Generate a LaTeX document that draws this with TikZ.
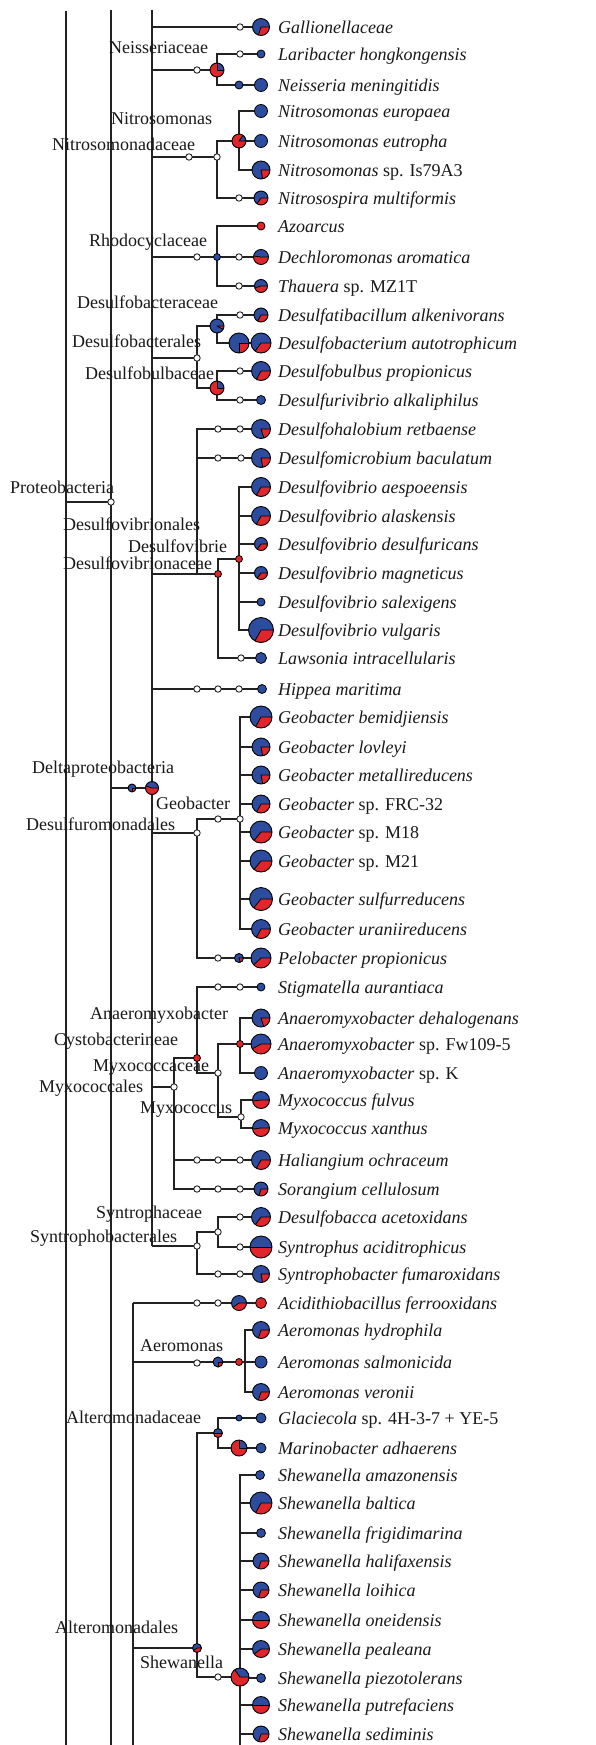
\documentclass[tikz,border=0pt]{standalone}
\usepackage{fontspec}
\setmainfont{Liberation Serif}
\usetikzlibrary{calc}
\definecolor{pblue}{HTML}{2E4C9E}
\definecolor{pred}{HTML}{E0262B}
\definecolor{lnc}{HTML}{222222}
\tikzset{
 br/.style={draw=lnc, line width=1.1pt},
 lab/.style={font=\fontsize{18}{20}\selectfont, inner sep=0pt, anchor=base west, text=black!90},
}
\newcommand\OC[1]{\filldraw[fill=white, draw=lnc, line width=0.9pt] (#1) circle[radius=3.2];}
\newcommand\DOT[3]{\filldraw[fill=#3, draw=black, line width=0.8pt] (#1) circle[radius=#2];}
\newcommand\PIE[3]{%
 \fill[pblue] (#1) circle[radius=#2];
 \fill[pred] (#1) -- ++(0:#2) arc[start angle=0,end angle={360*#3},radius=#2] -- cycle;
 \draw[black, line width=0.8pt, line join=round] (#1) ++(0:#2) -- (#1) -- ++({360*#3}:#2);
 \draw[black, line width=0.9pt] (#1) circle[radius=#2];}
\newcommand\SP[3]{\node[lab] (#1) at (278,{#2+6.5}) {#3};}
\begin{document}
\begin{tikzpicture}[x=1pt,y=-1pt]
\fill[white] (0,0) rectangle (596,1745);
\useasboundingbox (0,0) rectangle (596,1745);
% main lines
\coordinate (L1t) at (66,11); \coordinate (L1b) at (66,1745);
\coordinate (L2t) at (111,10); \coordinate (L2b) at (111,1745);
\coordinate (L3t) at (152,10); \coordinate (L3b) at (152,1246);
\coordinate (L4t) at (133,1303); \coordinate (L4b) at (133,1745);
\coordinate (prot) at (111,502);
% beta
\coordinate (galO) at (240,27); \coordinate (galT) at (261,27);
\coordinate (neisO) at (197,70); \coordinate (neis) at (217,70);
\coordinate (larO) at (240,54); \coordinate (larT) at (261,54);
\coordinate (nmenD) at (239,85); \coordinate (nmenT) at (261,85);
\coordinate (nmdO1) at (189,157); \coordinate (nmd) at (217,157);
\coordinate (nitroso) at (239,141);
\coordinate (neurT) at (261,111); \coordinate (neutT) at (261,141); \coordinate (nisT) at (261,170);
\coordinate (nmulO) at (239,198); \coordinate (nmulT) at (261,198);
\coordinate (rhodoO) at (197,257); \coordinate (rhodo) at (217,257);
\coordinate (azoT) at (261,226);
\coordinate (dechO) at (239,257); \coordinate (dechT) at (261,257);
\coordinate (thauO) at (239,286); \coordinate (thauT) at (261,286);
% delta
\coordinate (dbo) at (197,358); \coordinate (dbac) at (217,326);
\coordinate (dalkO) at (240,315); \coordinate (dalkT) at (261,315);
\coordinate (daut1) at (239,343); \coordinate (daut2) at (261,343);
\coordinate (dbulb) at (217,388);
\coordinate (dpropO) at (240,371); \coordinate (dpropT) at (261,371);
\coordinate (dakO) at (240,400); \coordinate (dakT) at (261,400);
\coordinate (dvn) at (197,574);
\coordinate (dhaloO1) at (218,429); \coordinate (dhaloO2) at (240,429); \coordinate (dhaloT) at (261,429);
\coordinate (dmicO1) at (218,458); \coordinate (dmicO2) at (241,458); \coordinate (dmicT) at (261,458);
\coordinate (dvac) at (218,574); \coordinate (dvib) at (239,559);
\coordinate (aespT) at (261,487); \coordinate (alasT) at (261,516); \coordinate (desuT) at (261,544);
\coordinate (magnT) at (261,573); \coordinate (salT) at (261,602); \coordinate (vulgT) at (261,630);
\coordinate (lawO) at (241,658); \coordinate (lawT) at (261,658);
\coordinate (hipO1) at (197,689); \coordinate (hipO2) at (218,689); \coordinate (hipO3) at (239,689); \coordinate (hipT) at (262,689);
\coordinate (delta1) at (132,788); \coordinate (delta2) at (152,788);
\coordinate (dmales) at (197,833); \coordinate (geobO) at (218,819); \coordinate (geob) at (240,819);
\coordinate (bemT) at (261,717); \coordinate (lovT) at (261,747); \coordinate (metT) at (261,775);
\coordinate (frcT) at (261,804); \coordinate (m18T) at (261,832); \coordinate (m21T) at (261,861);
\coordinate (sulT) at (261,899); \coordinate (uraT) at (261,929);
\coordinate (peloO) at (218,958); \coordinate (peloP) at (239,958); \coordinate (peloT) at (261,958);
\coordinate (myxales) at (174,1087); \coordinate (cysto) at (197,1058);
\coordinate (stigO1) at (218,987); \coordinate (stigO2) at (240,987); \coordinate (stigT) at (261,987);
\coordinate (myxac) at (218,1073); \coordinate (anaero) at (240,1044);
\coordinate (adehT) at (261,1018); \coordinate (afwT) at (261,1044); \coordinate (akT) at (261,1073);
\coordinate (myxo) at (241,1117); \coordinate (mfulT) at (261,1100); \coordinate (mxanT) at (261,1128);
\coordinate (halO1) at (197,1160); \coordinate (halO2) at (218,1160); \coordinate (halO3) at (240,1160); \coordinate (halT) at (261,1160);
\coordinate (sorO1) at (197,1189); \coordinate (sorO2) at (218,1189); \coordinate (sorO3) at (240,1189); \coordinate (sorT) at (261,1189);
\coordinate (synales) at (197,1246); \coordinate (synac) at (218,1232);
\coordinate (dbaccaO) at (240,1217); \coordinate (dbaccaT) at (261,1217);
\coordinate (syntO) at (240,1247); \coordinate (syntT) at (261,1247);
\coordinate (synbO1) at (218,1274); \coordinate (synbO2) at (240,1274); \coordinate (synbT) at (261,1274);
% gamma
\coordinate (acidO1) at (197,1303); \coordinate (acidO2) at (218,1303); \coordinate (acidP) at (239,1303); \coordinate (acidT) at (261,1303);
\coordinate (aeroO) at (197,1363); \coordinate (aeroP) at (218,1362); \coordinate (aeroD) at (239,1362); \coordinate (aeroJ) at (245,1362);
\coordinate (ahydT) at (261,1330); \coordinate (asalT) at (261,1362); \coordinate (averT) at (261,1392);
\coordinate (altac) at (218,1433); \coordinate (glacD) at (239,1418); \coordinate (glacT) at (261,1418);
\coordinate (mariP) at (239,1448); \coordinate (mariT) at (261,1448);
\coordinate (altales) at (197,1648); \coordinate (shewO) at (218,1677); \coordinate (shew) at (240,1677); \coordinate (shewB) at (240,1745);
\coordinate (amazT) at (260,1475); \coordinate (baltT) at (261,1503); \coordinate (frigT) at (261,1533);
\coordinate (haliT) at (261,1561); \coordinate (loihT) at (261,1590); \coordinate (oneiT) at (261,1620);
\coordinate (pealT) at (261,1649); \coordinate (piezT) at (261,1678); \coordinate (putrT) at (261,1705); \coordinate (sediT) at (261,1734);
% ---------- connectors
\draw[br] (L1t) -- (L1b); \draw[br] (L2t) -- (L2b); \draw[br] (L3t) -- (L3b); \draw[br] (L4t) -- (L4b);
\draw[br] (L1t |- prot) -- (prot);
\draw[br] (L3t |- galT) -- (galT);
\draw[br] (L3t |- neis) -- (neis); \draw[br] (neis) |- (larT); \draw[br] (neis) |- (nmenT);
\draw[br] (L3t |- nmd) -- (nmd); \draw[br] (nmd) |- (nitroso); \draw[br] (nitroso) -- (neutT);
\draw[br] (nitroso) |- (neurT); \draw[br] (nitroso) |- (nisT); \draw[br] (nmd) |- (nmulT);
\draw[br] (L3t |- rhodo) -- (dechT); \draw[br] (rhodo) |- (azoT); \draw[br] (rhodo) |- (thauT);
\draw[br] (L3t |- dbo) -- (dbo); \draw[br] (dbo) |- (dbac); \draw[br] (dbac) |- (dalkT); \draw[br] (dbac) |- (daut2);
\draw[br] (dbo) |- (dbulb); \draw[br] (dbulb) |- (dpropT); \draw[br] (dbulb) |- (dakT);
\draw[br] (dhaloT) -| (dvn) -- (dvac); \draw[br] (dmicT) -- (dvn |- dmicT);
\draw[br] (L3t |- dvn) -- (dvn);
\draw[br] (dvac) |- (dvib);
\foreach \t in {aespT,alasT,desuT,magnT,salT,vulgT} {\draw[br] (dvib) |- (\t);}
\draw[br] (dvac) |- (lawT);
\draw[br] (L3t |- hipT) -- (hipT);
\draw[br] (L2t |- delta2) -- (delta2);
\draw[br] (L3t |- dmales) -- (dmales); \draw[br] (dmales) |- (geob);
\foreach \t in {bemT,lovT,metT,frcT,m18T,m21T,sulT,uraT} {\draw[br] (geob) |- (\t);}
\draw[br] (dmales) |- (peloT);
\draw[br] (L3t |- myxales) -- (myxales); \draw[br] (myxales) |- (cysto); \draw[br] (cysto) |- (stigT);
\draw[br] (cysto) |- (myxac); \draw[br] (myxac) |- (anaero); \draw[br] (anaero) |- (adehT); \draw[br] (anaero) -- (afwT);
\draw[br] (anaero) |- (akT); \draw[br] (myxac) |- (myxo); \draw[br] (myxo) |- (mfulT); \draw[br] (myxo) |- (mxanT);
\draw[br] (myxales) |- (halT); \draw[br] (myxales) |- (sorT);
\draw[br] (L3b) -- (synales); \draw[br] (synales) |- (synac); \draw[br] (synac) |- (dbaccaT); \draw[br] (synac) |- (syntT);
\draw[br] (synales) |- (synbT);
\draw[br] (L4t) -- (acidT);
\draw[br] (L4t |- aeroJ) -- (aeroJ); \draw[br] (aeroJ) |- (ahydT); \draw[br] (aeroJ) -- (asalT); \draw[br] (aeroJ) |- (averT);
\draw[br] (L4t |- altales) -- (altales); \draw[br] (altales) |- (altac); \draw[br] (altac) |- (glacT); \draw[br] (altac) |- (mariT);
\draw[br] (altales) |- (shew); \draw[br] (shew) -- (shewB);
\foreach \t in {amazT,baltT,frigT,haliT,loihT,oneiT,pealT,piezT,putrT,sediT} {\draw[br] (shew) |- (\t);}
% ---------- markers
\OC{galO} \PIE{galT}{8.5}{0.30}
\OC{neisO} \PIE{neis}{7}{0.75}
\OC{larO} \DOT{larT}{4}{pblue}
\DOT{nmenD}{4}{pblue} \DOT{nmenT}{6.5}{pblue}
\OC{nmdO1} \OC{nmd}
\PIE{nitroso}{7}{0.85}
\DOT{neurT}{6.5}{pblue} \DOT{neutT}{6.5}{pblue} \PIE{nisT}{9}{0.22}
\OC{nmulO} \PIE{nmulT}{7}{0.35}
\OC{rhodoO} \DOT{rhodo}{3.5}{pblue}
\DOT{azoT}{4}{pred}
\OC{dechO} \PIE{dechT}{7.5}{0.52}
\OC{thauO} \PIE{thauT}{6.5}{0.45}
\OC{dbo} \PIE{dbac}{7}{0.08}
\OC{dalkO} \PIE{dalkT}{7}{0.33}
\PIE{daut1}{10}{0.25} \PIE{daut2}{10}{0.35}
\PIE{dbulb}{7}{0.75}
\OC{dpropO} \PIE{dpropT}{9.5}{0.33}
\OC{dakO} \DOT{dakT}{4.5}{pblue}
\OC{dhaloO1} \OC{dhaloO2} \PIE{dhaloT}{9.5}{0.2}
\OC{dmicO1} \OC{dmicO2} \PIE{dmicT}{9.5}{0.22}
\DOT{dvac}{3.5}{pred} \DOT{dvib}{3.5}{pred}
\PIE{aespT}{9.5}{0.33} \PIE{alasT}{9.5}{0.33} \PIE{desuT}{6.5}{0.35} \PIE{magnT}{6.5}{0.35}
\DOT{salT}{4}{pblue} \PIE{vulgT}{12.5}{0.33}
\OC{lawO} \DOT{lawT}{5.5}{pblue}
\OC{hipO1} \OC{hipO2} \OC{hipO3} \DOT{hipT}{4.5}{pblue}
\OC{prot}
\PIE{delta1}{4}{0.25} \PIE{delta2}{6.5}{0.55}
\OC{dmales} \OC{geobO} \OC{geob}
\PIE{bemT}{11}{0.33} \PIE{lovT}{9}{0.22} \PIE{metT}{9}{0.22} \PIE{frcT}{9}{0.33}
\PIE{m18T}{11}{0.36} \PIE{m21T}{11}{0.36} \PIE{sulT}{11.5}{0.36} \PIE{uraT}{9.5}{0.33}
\OC{peloO} \PIE{peloP}{4.5}{0.2} \PIE{peloT}{10}{0.38}
\OC{myxales} \DOT{cysto}{3.5}{pred} \OC{stigO1} \OC{stigO2} \DOT{stigT}{4}{pblue}
\OC{myxac} \DOT{anaero}{3.5}{pred} \PIE{adehT}{9}{0.2} \PIE{afwT}{10}{0.42} \DOT{akT}{6.5}{pblue}
\OC{myxo} \PIE{mfulT}{8.5}{0.48} \PIE{mxanT}{8.5}{0.48}
\OC{halO1} \OC{halO2} \OC{halO3} \PIE{halT}{9.5}{0.33}
\OC{sorO1} \OC{sorO2} \OC{sorO3} \PIE{sorT}{7}{0.3}
\OC{synales} \OC{synac} \OC{dbaccaO} \PIE{dbaccaT}{9.5}{0.35} \OC{syntO} \PIE{syntT}{11}{0.5}
\OC{synbO1} \OC{synbO2} \PIE{synbT}{8.5}{0.22}
\OC{acidO1} \OC{acidO2} \PIE{acidP}{7.5}{0.4} \DOT{acidT}{5.5}{pred}
\OC{aeroO} \PIE{aeroP}{5}{0.25} \DOT{aeroD}{3.5}{pred}
\PIE{ahydT}{8.5}{0.3} \DOT{asalT}{6}{pblue} \PIE{averT}{8.5}{0.3}
\PIE{altac}{4.5}{0.5} \DOT{glacD}{3}{pblue} \DOT{glacT}{5}{pblue} \PIE{mariP}{8}{0.75} \DOT{mariT}{5}{pblue}
\PIE{altales}{4.5}{0.4} \OC{shewO} \PIE{shew}{9}{0.65}
\DOT{amazT}{4.5}{pblue} \PIE{baltT}{11}{0.33} \DOT{frigT}{4.5}{pblue} \PIE{haliT}{8}{0.3} \PIE{loihT}{8}{0.3}
\PIE{oneiT}{8.5}{0.5} \PIE{pealT}{8.5}{0.4} \DOT{piezT}{4.5}{pblue} \PIE{putrT}{8.5}{0.5} \PIE{sediT}{8}{0.3}
% ---------- clade labels
\node[lab] (lNeis) at (109,53) {Neisseriaceae};
\node[lab] (lNitro) at (111,124) {Nitrosomonas};
\node[lab] (lNmd) at (52,150) {Nitrosomonadaceae};
\node[lab] (lRhodo) at (89,246) {Rhodocyclaceae};
\node[lab] (lDbac) at (77,308) {Desulfobacteraceae};
\node[lab] (lDbo) at (72,347) {Desulfobacterales};
\node[lab] (lDbulb) at (85,379) {Desulfobulbaceae};
\node[lab] (lProt) at (10,493) {Proteobacteria};
\node[lab] (lDvn) at (63,530) {Desulfovibrionales};
\node[lab] (lDvb) at (128,552) {Desulfovibrie};
\node[lab] (lDvac) at (63,569) {Desulfovibrionaceae};
\node[lab] (lDelta) at (32,773) {Deltaproteobacteria};
\node[lab] (lGeob) at (156,809) {Geobacter};
\node[lab] (lDmales) at (26,830) {Desulfuromonadales};
\node[lab] (lAnaero) at (90,1019) {Anaeromyxobacter};
\node[lab] (lCysto) at (54,1045) {Cystobacterineae};
\node[lab] (lMyxac) at (93,1071) {Myxococcaceae};
\node[lab] (lMyxales) at (39,1092) {Myxococcales};
\node[lab] (lMyxo) at (140,1113) {Myxococcus};
\node[lab] (lSynac) at (96,1218) {Syntrophaceae};
\node[lab] (lSynales) at (30,1242) {Syntrophobacterales};
\node[lab] (lAero) at (140,1351) {Aeromonas};
\node[lab] (lAltac) at (66,1423) {Alteromonadaceae};
\node[lab] (lAltales) at (55,1633) {Alteromonadales};
\node[lab] (lShew) at (140,1668) {Shewanella};
% ---------- species labels
\SP{sGal}{27}{\textit{Gallionellaceae}}
\SP{sLar}{54}{\textit{Laribacter hongkongensis}}
\SP{sNmen}{85}{\textit{Neisseria meningitidis}}
\SP{sNeur}{111}{\textit{Nitrosomonas europaea}}
\SP{sNeut}{141}{\textit{Nitrosomonas eutropha}}
\SP{sNis}{170}{\textit{Nitrosomonas} sp. Is79A3}
\SP{sNmul}{198}{\textit{Nitrosospira multiformis}}
\SP{sAzo}{226}{\textit{Azoarcus}}
\SP{sDech}{257}{\textit{Dechloromonas aromatica}}
\SP{sThau}{286}{\textit{Thauera} sp. MZ1T}
\SP{sDalk}{315}{\textit{Desulfatibacillum alkenivorans}}
\SP{sDaut}{343}{\textit{Desulfobacterium autotrophicum}}
\SP{sDprop}{371}{\textit{Desulfobulbus propionicus}}
\SP{sDak}{400}{\textit{Desulfurivibrio alkaliphilus}}
\SP{sDhalo}{429}{\textit{Desulfohalobium retbaense}}
\SP{sDmic}{458}{\textit{Desulfomicrobium baculatum}}
\SP{sAesp}{487}{\textit{Desulfovibrio aespoeensis}}
\SP{sAlas}{516}{\textit{Desulfovibrio alaskensis}}
\SP{sDesu}{544}{\textit{Desulfovibrio desulfuricans}}
\SP{sMagn}{573}{\textit{Desulfovibrio magneticus}}
\SP{sSal}{602}{\textit{Desulfovibrio salexigens}}
\SP{sVulg}{630}{\textit{Desulfovibrio vulgaris}}
\SP{sLaw}{658}{\textit{Lawsonia intracellularis}}
\SP{sHip}{689}{\textit{Hippea maritima}}
\SP{sBem}{717}{\textit{Geobacter bemidjiensis}}
\SP{sLov}{747}{\textit{Geobacter lovleyi}}
\SP{sMet}{775}{\textit{Geobacter metallireducens}}
\SP{sFrc}{804}{\textit{Geobacter} sp. FRC-32}
\SP{sM18}{832}{\textit{Geobacter} sp. M18}
\SP{sM21}{861}{\textit{Geobacter} sp. M21}
\SP{sSul}{899}{\textit{Geobacter sulfurreducens}}
\SP{sUra}{929}{\textit{Geobacter uraniireducens}}
\SP{sPelo}{958}{\textit{Pelobacter propionicus}}
\SP{sStig}{987}{\textit{Stigmatella aurantiaca}}
\SP{sAdeh}{1018}{\textit{Anaeromyxobacter dehalogenans}}
\SP{sAfw}{1044}{\textit{Anaeromyxobacter} sp. Fw109-5}
\SP{sAk}{1073}{\textit{Anaeromyxobacter} sp. K}
\SP{sMful}{1100}{\textit{Myxococcus fulvus}}
\SP{sMxan}{1128}{\textit{Myxococcus xanthus}}
\SP{sHal}{1160}{\textit{Haliangium ochraceum}}
\SP{sSor}{1189}{\textit{Sorangium cellulosum}}
\SP{sDbacca}{1217}{\textit{Desulfobacca acetoxidans}}
\SP{sSynt}{1247}{\textit{Syntrophus aciditrophicus}}
\SP{sSynb}{1274}{\textit{Syntrophobacter fumaroxidans}}
\SP{sAcid}{1303}{\textit{Acidithiobacillus ferrooxidans}}
\SP{sAhyd}{1330}{\textit{Aeromonas hydrophila}}
\SP{sAsal}{1362}{\textit{Aeromonas salmonicida}}
\SP{sAver}{1392}{\textit{Aeromonas veronii}}
\SP{sGlac}{1418}{\textit{Glaciecola} sp. 4H-3-7 + YE-5}
\SP{sMari}{1448}{\textit{Marinobacter adhaerens}}
\SP{sAmaz}{1475}{\textit{Shewanella amazonensis}}
\SP{sBalt}{1503}{\textit{Shewanella baltica}}
\SP{sFrig}{1533}{\textit{Shewanella frigidimarina}}
\SP{sHali}{1561}{\textit{Shewanella halifaxensis}}
\SP{sLoih}{1590}{\textit{Shewanella loihica}}
\SP{sOnei}{1620}{\textit{Shewanella oneidensis}}
\SP{sPeal}{1649}{\textit{Shewanella pealeana}}
\SP{sPiez}{1678}{\textit{Shewanella piezotolerans}}
\SP{sPutr}{1705}{\textit{Shewanella putrefaciens}}
\SP{sSedi}{1734}{\textit{Shewanella sediminis}}
\end{tikzpicture}
\end{document}
